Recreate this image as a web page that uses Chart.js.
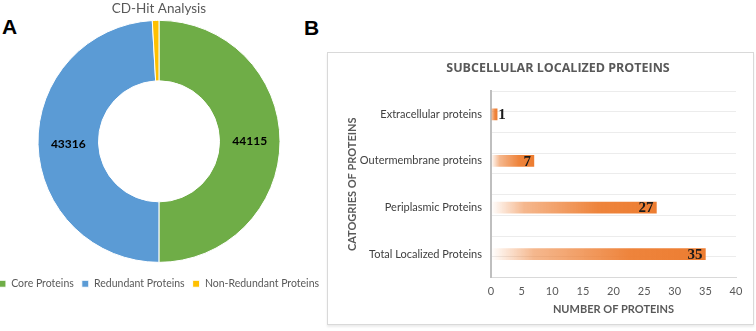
<!DOCTYPE html>
<html>
<head>
<meta charset="utf-8">
<script src="https://cdn.jsdelivr.net/npm/chart.js@4.4.1/dist/chart.umd.min.js"></script>
<style>
  html, body { margin: 0; padding: 0; background: #ffffff; width: 756px; height: 331px; overflow: hidden; position: relative; font-family: Lato, "Open Sans", sans-serif; }
  .panelLetter { position: absolute; font-family: "Liberation Sans", Arial, sans-serif; font-weight: bold; font-size: 21px; color: #000; }
  #wrapA { position: absolute; left: -13px; top: 0px; width: 344px; height: 300px; }
  #boxB { position: absolute; left: 327px; top: 52px; width: 425px; height: 271px; border: 1px solid #d9d9d9; box-shadow: 0 2px 2px rgba(0,0,0,0.08); background: #fff; }
  #wrapB { position: absolute; left: 0; top: 0; width: 425px; height: 271px; }
  #titleB { position: absolute; left: 80px; top: 6px; width: 300px; text-align: center; white-space: nowrap; font-family: "Open Sans", Lato, sans-serif; font-weight: bold; font-size: 12.5px; color: #595959; }
</style>
</head>
<body>
<div class="panelLetter" style="left:2px; top:15px;">A</div>
<div class="panelLetter" style="left:304px; top:16px;">B</div>
<div id="wrapA"><canvas id="chartA"></canvas></div>
<div id="boxB">
  <div id="wrapB"><canvas id="chartB"></canvas></div>
  <div id="titleB">SUBCELLULAR LOCALIZED PROTEINS</div>
</div>
<script>
// ---- Panel A data ----
const donutLabels = ["Core Proteins", "Redundant Proteins", "Non-Redundant Proteins"];
const donutValues = [44115, 43316, 780];
const donutColors = ["#6fad47", "#5b9bd5", "#ffc000"];

// ---- Panel B data ----
const barCategories = ["Extracellular proteins", "Outermembrane proteins", "Periplasmic Proteins", "Total Localized Proteins"];
const barValues = [1, 7, 27, 35];
const xTickMin = 0;
const xTickMax = 40;
const xTickStep = 5;

const GRAY = "#595959";

// Donut value labels plugin
const donutLabelPlugin = {
  id: "donutLabels",
  afterDatasetsDraw(chart) {
    const ctx = chart.ctx;
    const meta = chart.getDatasetMeta(0);
    const data = chart.data.datasets[0].data;
    const total = data.reduce((a, b) => a + b, 0);
    ctx.save();
    ctx.font = "bold 12px Lato, 'Open Sans', sans-serif";
    ctx.fillStyle = "#000";
    ctx.textAlign = "center";
    ctx.textBaseline = "middle";
    meta.data.forEach((arc, i) => {
      if (data[i] / total < 0.02) return;
      const p = arc.tooltipPosition();
      ctx.fillText(String(data[i]), p.x, p.y);
    });
    ctx.restore();
  }
};

new Chart(document.getElementById("chartA"), {
  type: "doughnut",
  data: {
    labels: donutLabels,
    datasets: [{
      data: donutValues,
      backgroundColor: donutColors,
      borderColor: "#ffffff",
      borderWidth: 1,
      radius: 121
    }]
  },
  options: {
    responsive: true,
    maintainAspectRatio: false,
    animation: false,
    cutout: "50%",
    layout: { padding: { top: 0, bottom: 1, left: 0, right: 0 } },
    plugins: {
      title: {
        display: true,
        text: "CD-Hit Analysis",
        color: GRAY,
        font: { family: "Lato, 'Open Sans', sans-serif", size: 13.5, weight: "normal" },
        padding: { top: 1, bottom: -5 }
      },
      legend: {
        display: true,
        position: "bottom",
        labels: {
          boxWidth: 7,
          boxHeight: 7,
          color: GRAY,
          padding: 8,
          font: { family: "Lato, 'Open Sans', sans-serif", size: 10.5 }
        }
      },
      tooltip: { enabled: false }
    }
  },
  plugins: [donutLabelPlugin]
});

// Bar value labels plugin
const barLabelPlugin = {
  id: "barLabels",
  afterDatasetsDraw(chart) {
    const ctx = chart.ctx;
    const meta = chart.getDatasetMeta(0);
    const data = chart.data.datasets[0].data;
    ctx.save();
    ctx.font = "bold 15px 'Liberation Serif', 'Times New Roman', serif";
    ctx.fillStyle = "#1a1a1a";
    ctx.textBaseline = "middle";
    meta.data.forEach((bar, i) => {
      const txt = String(data[i]);
      const w = ctx.measureText(txt).width;
      const len = bar.x - bar.base;
      if (len < w + 6) {
        ctx.textAlign = "left";
        ctx.fillText(txt, bar.x + 1, bar.y + 1);
      } else {
        ctx.textAlign = "right";
        ctx.fillText(txt, bar.x - 3, bar.y + 1);
      }
    });
    ctx.restore();
  }
};

function barGradient(context) {
  const chart = context.chart;
  const area = chart.chartArea;
  if (!area || !chart.scales.x) return "#ed7d31";
  const xs = chart.scales.x;
  const x0 = xs.getPixelForValue(0);
  const x1 = xs.getPixelForValue(context.raw);
  if (!isFinite(x0) || !isFinite(x1) || x1 - x0 < 1) return "#ed7d31";
  const g = chart.ctx.createLinearGradient(x0, 0, x1, 0);
  g.addColorStop(0, "rgba(237,125,49,0.0)");
  g.addColorStop(0.2, "rgba(237,125,49,0.55)");
  g.addColorStop(0.65, "rgba(237,125,49,0.95)");
  g.addColorStop(1, "rgba(237,125,49,1)");
  return g;
}

new Chart(document.getElementById("chartB"), {
  type: "bar",
  data: {
    labels: barCategories,
    datasets: [{
      data: barValues,
      backgroundColor: barGradient,
      borderWidth: 0,
      barThickness: 11,
      yAxisID: "y"
    }]
  },
  options: {
    indexAxis: "y",
    responsive: true,
    maintainAspectRatio: false,
    animation: false,
    layout: { padding: { top: 38, right: 17, bottom: 9.5, left: 0 } },
    scales: {
      x: {
        type: "linear",
        min: xTickMin,
        max: xTickMax,
        ticks: { stepSize: xTickStep, color: GRAY, padding: 8, font: { family: "Lato, 'Open Sans', sans-serif", size: 11, lineHeight: 1 } },
        grid: { display: false, drawTicks: false },
        border: { display: true, color: "#d9d9d9", width: 1 },
        title: {
          display: true,
          text: "NUMBER OF PROTEINS",
          color: GRAY,
          font: { family: "Lato, 'Open Sans', sans-serif", size: 11, weight: "bold", lineHeight: 1 },
          padding: { top: -1, bottom: 0 }
        }
      },
      y: {
        type: "category",
        position: "left",
        ticks: { color: "#404040", padding: 9, font: { family: "Lato, 'Open Sans', sans-serif", size: 11 } },
        grid: { display: false, drawTicks: false },
        border: { display: true, color: "#bfbfbf", width: 2 },
        title: {
          display: true,
          text: "CATOGRIES OF PROTEINS",
          color: GRAY,
          font: { family: "Lato, 'Open Sans', sans-serif", size: 11, weight: "bold" },
          padding: { top: 18, bottom: 0 }
        },
        afterFit(scale) { scale.width = 163; }
      },
      yGrid: {
        type: "linear",
        position: "right",
        min: 0,
        max: 8,
        ticks: { display: false, stepSize: 1 },
        grid: { color: "#ececec", lineWidth: 1, drawTicks: false },
        border: { display: false },
        afterFit(scale) { scale.width = 0; }
      }
    },
    plugins: {
      legend: { display: false },
      title: { display: false },
      tooltip: { enabled: false }
    }
  },
  plugins: [barLabelPlugin]
});
</script>
</body>
</html>
